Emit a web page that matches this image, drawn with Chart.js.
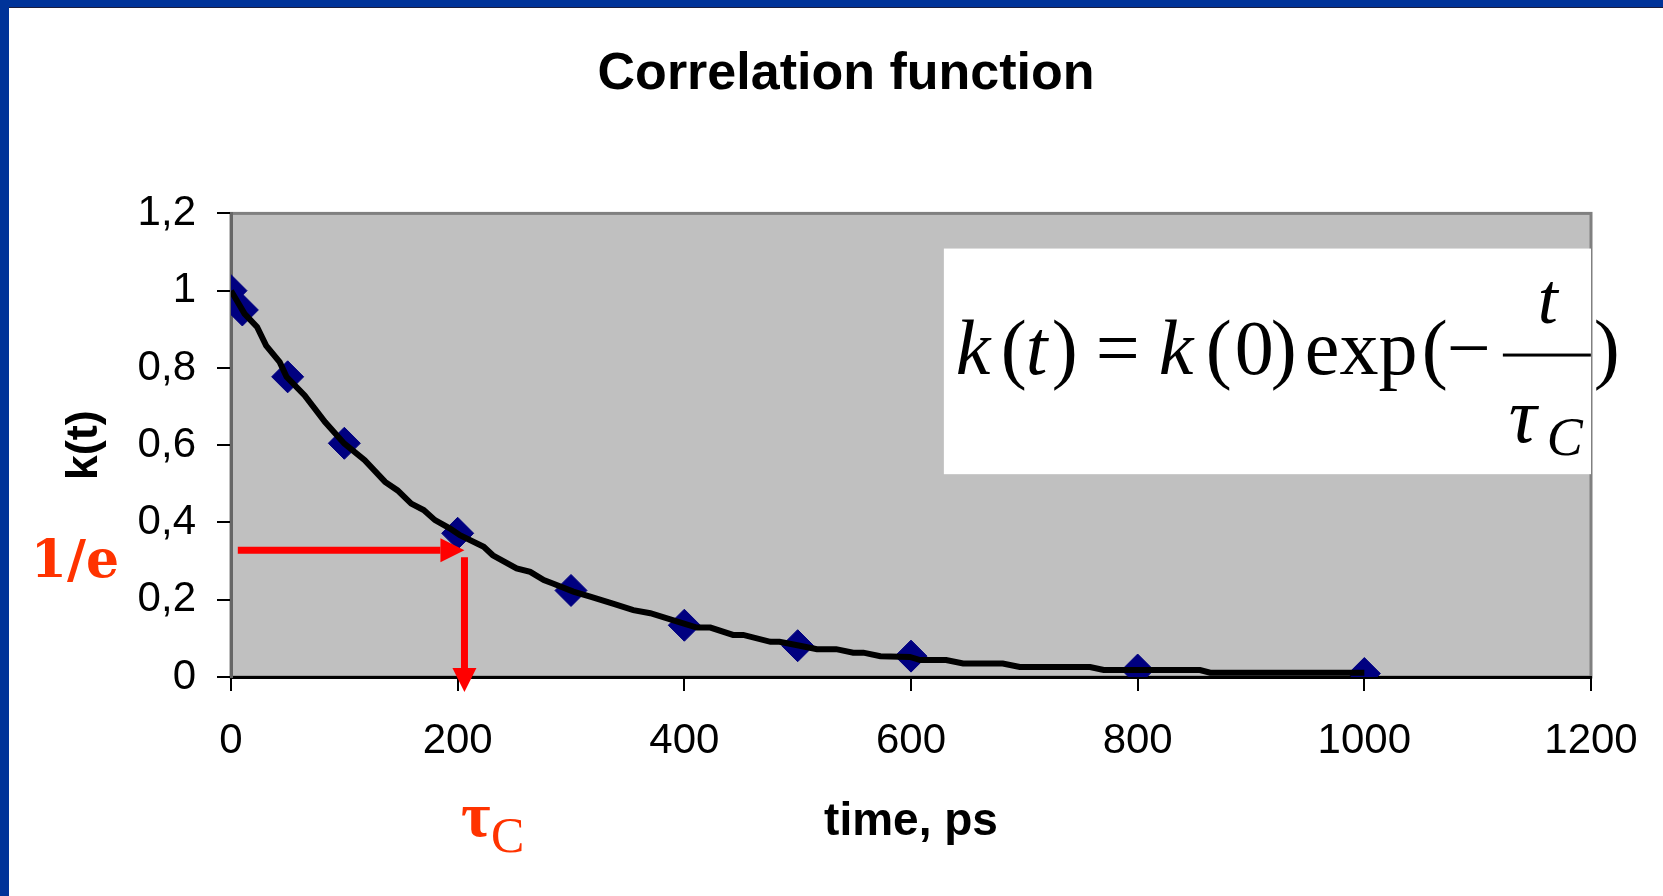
<!DOCTYPE html>
<html lang="en">
<head>
<meta charset="UTF-8">
<title>Correlation function</title>
<script src="https://cdn.jsdelivr.net/npm/chart.js"></script>
<style>
    * { margin: 0; padding: 0; box-sizing: border-box; }
    body { width: 1663px; height: 896px; background: #fff; overflow: hidden; position: relative; }
    .frame-top { position: absolute; left: 0; top: 0; width: 100%; height: 8px; background: #003399; border-bottom: 1px solid #1c1c3c; }
    .frame-left { position: absolute; left: 0; top: 0; width: 9px; height: 100%; background: #003399; }
    canvas { position: absolute; left: 0; top: 0; }
</style>
</head>
<body>
<div class="frame-top"></div>
<div class="frame-left"></div>
<canvas id="corrChart" width="1663" height="896"></canvas>

<script>
    // black curve
    const lineTime = [0, 12, 23, 31, 43, 49, 65, 83, 100, 118, 136, 147, 159, 170, 180, 193, 202, 223, 231,
        252, 264, 276, 284, 302, 317, 337, 355, 370, 399, 411, 423, 443, 452, 476, 484, 502, 517, 534,
        549, 558, 573, 599, 608, 631, 646, 681, 696, 758, 770, 855, 864, 1000];
    const lineK = [1.0, 0.94, 0.906, 0.858, 0.815, 0.777, 0.729, 0.66, 0.604, 0.561, 0.505, 0.483, 0.449, 0.432, 0.406, 0.385, 0.367, 0.337, 0.315,
        0.281, 0.272, 0.251, 0.242, 0.221, 0.208, 0.19, 0.173, 0.165, 0.139, 0.128, 0.128, 0.109, 0.109, 0.091, 0.091, 0.081, 0.072, 0.072,
        0.063, 0.063, 0.054, 0.052, 0.044, 0.044, 0.035, 0.035, 0.026, 0.026, 0.018, 0.018, 0.011, 0.011];

    // diamond markers
    const pointTime = [0, 10, 50, 100, 200, 300, 400, 500, 600, 800, 1000];
    const pointK = [1.0, 0.95, 0.777, 0.605, 0.372, 0.224, 0.134, 0.081, 0.054, 0.018, 0.009];

    const xTicks = [0, 200, 400, 600, 800, 1000, 1200];
    const xTickLabels = ['0', '200', '400', '600', '800', '1000', '1200'];
    const yTicks = [0, 0.2, 0.4, 0.6, 0.8, 1, 1.2];
    const yTickLabels = ['0', '0,2', '0,4', '0,6', '0,8', '1', '1,2'];

    // 1/e marker arrows, in data units
    const tauC = 206;
    const levelE = 0.328;

    const SANS = "'Liberation Sans', Arial, sans-serif";
    const SERIF = "'Liberation Serif', 'Times New Roman', serif";

    function drawArrow(ctx, x1, y1, x2, y2) {
        const ang = Math.atan2(y2 - y1, x2 - x1);
        const head = 24, half = 12;
        const bx = x2 - head * Math.cos(ang), by = y2 - head * Math.sin(ang);
        ctx.lineWidth = 7;
        ctx.beginPath();
        ctx.moveTo(x1, y1);
        ctx.lineTo(bx, by);
        ctx.stroke();
        ctx.beginPath();
        ctx.moveTo(x2, y2);
        ctx.lineTo(bx + half * Math.sin(ang), by - half * Math.cos(ang));
        ctx.lineTo(bx - half * Math.sin(ang), by + half * Math.cos(ang));
        ctx.closePath();
        ctx.fill();
    }

    function put(ctx, text, font, x, y) {
        ctx.font = font;
        ctx.fillText(text, x, y);
    }

    const decor = {
        id: 'decor',
        beforeDraw(chart) {
            const {ctx, chartArea: a} = chart;
            ctx.save();
            ctx.fillStyle = '#c0c0c0';
            ctx.fillRect(a.left, a.top, a.right - a.left, a.bottom - a.top);
            ctx.strokeStyle = '#808080';
            ctx.lineWidth = 3;
            ctx.strokeRect(a.left, a.top, a.right - a.left, a.bottom - a.top);
            ctx.restore();
        },
        afterDraw(chart) {
            const {ctx, chartArea: a} = chart;
            const xs = chart.scales.x, ys = chart.scales.y;
            ctx.save();

            // red arrows
            ctx.strokeStyle = '#ff0000';
            ctx.fillStyle = '#ff0000';
            drawArrow(ctx, xs.getPixelForValue(6), ys.getPixelForValue(levelE),
                xs.getPixelForValue(tauC), ys.getPixelForValue(levelE));
            drawArrow(ctx, xs.getPixelForValue(tauC), ys.getPixelForValue(levelE - 0.018),
                xs.getPixelForValue(tauC), ys.getPixelForValue(-0.039));

            // red labels
            ctx.fillStyle = '#ff3300';
            ctx.textBaseline = 'alphabetic';
            ctx.textAlign = 'center';
            put(ctx, '1/e', "bold 52px 'DejaVu Serif', serif", 75, 577);
            ctx.textAlign = 'left';
            put(ctx, 'τ', 'bold 64px ' + SERIF, 461, 836);
            put(ctx, 'C', '50px ' + SERIF, 491, 852);

            // formula box
            const bl = xs.getPixelForValue(629), bt = ys.getPixelForValue(1.109);
            const bb = ys.getPixelForValue(0.525);
            ctx.fillStyle = '#ffffff';
            ctx.fillRect(bl, bt, a.right - bl, bb - bt);

            ctx.fillStyle = '#000000';
            const base = bt + 125;
            const it = 'italic 78px ' + SERIF, rm = '78px ' + SERIF;
            put(ctx, 'k', it, bl + 12, base);
            put(ctx, '(', rm, bl + 57, base);
            put(ctx, 't', it, bl + 82, base);
            put(ctx, ')', rm, bl + 108, base);
            put(ctx, '=', rm, bl + 152, base);
            put(ctx, 'k', it, bl + 215, base);
            put(ctx, '(', rm, bl + 262, base);
            put(ctx, '0', rm, bl + 291, base);
            put(ctx, ')', rm, bl + 327, base);
            put(ctx, 'exp', rm, bl + 361, base);
            put(ctx, '(', rm, bl + 478, base);
            put(ctx, '\u2212', rm, bl + 503, base);
            ctx.textAlign = 'center';
            put(ctx, 't', 'italic 72px ' + SERIF, bl + 604, bt + 74);
            ctx.textAlign = 'left';
            ctx.fillRect(bl + 559, bt + 105, 88, 3);
            put(ctx, 'τ', it, bl + 565, bt + 193);
            put(ctx, 'C', 'italic 54px ' + SERIF, bl + 603, bt + 206);
            put(ctx, ')', rm, bl + 650, base);

            ctx.restore();
        }
    };

    new Chart(document.getElementById('corrChart'), {
        type: 'scatter',
        data: {
            datasets: [{
                label: 'fit',
                data: lineTime.map((t, i) => ({x: t, y: lineK[i]})),
                showLine: true,
                borderColor: '#000000',
                borderWidth: 6,
                pointRadius: 0,
                tension: 0,
                order: 0
            }, {
                label: 'k(t)',
                data: pointTime.map((t, i) => ({x: t, y: pointK[i]})),
                pointStyle: 'rectRot',
                pointRadius: 16,
                backgroundColor: '#000080',
                borderColor: '#000080',
                borderWidth: 1,
                order: 1
            }]
        },
        options: {
            responsive: false,
            devicePixelRatio: 1,
            animation: false,
            layout: { padding: { left: 101, right: 72, top: 0, bottom: 0 } },
            plugins: {
                legend: { display: false },
                tooltip: { enabled: false },
                title: {
                    display: true,
                    text: 'Correlation function',
                    color: '#000',
                    font: { family: SANS, size: 52, weight: 'bold' },
                    padding: { top: 43, bottom: 108 }
                }
            },
            scales: {
                x: {
                    type: 'linear',
                    min: 0,
                    max: 1200,
                    afterBuildTicks: s => { s.ticks = xTicks.map(v => ({value: v})); },
                    afterFit: s => { s.height = 219; },
                    grid: { drawOnChartArea: false, drawTicks: true, tickLength: 14, color: '#000', lineWidth: 2 },
                    border: { display: true, color: '#000', width: 3 },
                    ticks: {
                        color: '#000', padding: 25, maxRotation: 0,
                        font: { family: SANS, size: 42 },
                        callback: (v, i) => xTickLabels[i]
                    },
                    title: {
                        display: true,
                        text: 'time, ps',
                        color: '#000',
                        font: { family: SANS, size: 46, weight: 'bold' },
                        padding: { top: 0, bottom: 46 }
                    }
                },
                y: {
                    type: 'linear',
                    min: 0,
                    max: 1.2,
                    afterBuildTicks: s => { s.ticks = yTicks.map(v => ({value: v})); },
                    afterFit: s => { s.width = 130; },
                    grid: { drawOnChartArea: false, drawTicks: true, tickLength: 14, color: '#000', lineWidth: 2 },
                    border: { display: true, color: '#666', width: 3 },
                    ticks: {
                        color: '#000', padding: 21,
                        font: { family: SANS, size: 42 },
                        callback: (v, i) => yTickLabels[i]
                    },
                    title: {
                        display: true,
                        text: 'k(t)',
                        color: '#000',
                        font: { family: SANS, size: 45, weight: 'bold' },
                        padding: { top: -43, bottom: 0 }
                    }
                }
            }
        },
        plugins: [decor]
    });
</script>
</body>
</html>
